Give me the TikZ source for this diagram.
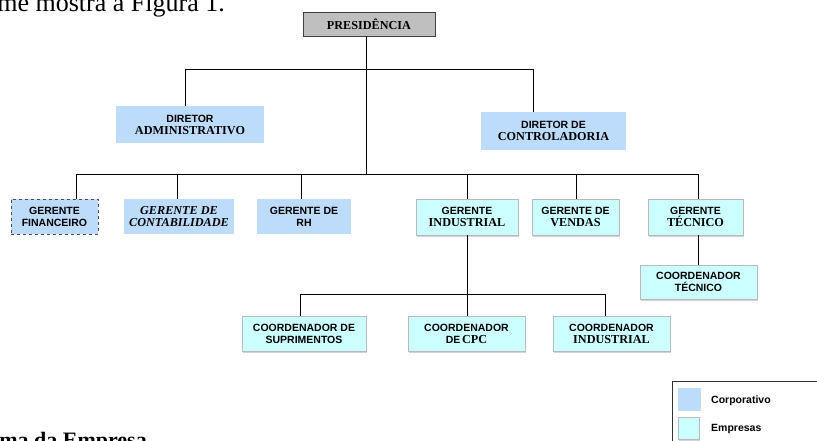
\documentclass[tikz,border=0pt]{standalone}
\usepackage{fontspec}
\setmainfont{Liberation Serif}
\setsansfont{Liberation Sans}
\usetikzlibrary{shadows}

\definecolor{corpblue}{RGB}{189,220,251}
\definecolor{empcyan}{RGB}{204,255,255}
\definecolor{presgray}{RGB}{191,191,191}

\newcommand{\ssf}[1]{{\sffamily\bfseries\fontsize{10.5}{12}\selectfont #1}}
\newcommand{\srm}[1]{{\rmfamily\bfseries\fontsize{12.2}{12}\selectfont #1}}

\tikzset{
  sz/.style 2 args={minimum width=#1pt,minimum height=#2pt},
  corp/.style={fill=corpblue,inner sep=0pt,align=center,
    font=\fontsize{10.5}{12}\selectfont},
  emp/.style={fill=empcyan,draw=gray!55,inner sep=0pt,align=center,
    font=\fontsize{10.5}{12}\selectfont,
    drop shadow={shadow xshift=1.2pt,shadow yshift=-1.5pt,opacity=0.35}},
  wire/.style={line width=0.8pt}
}

\begin{document}
\begin{tikzpicture}[x=1pt,y=-1pt]

	\useasboundingbox (0,0) rectangle (817,441);
	\clip (0,0) rectangle (817,441);

	% text of the page around the figure
	\node[anchor=base east,inner sep=0pt,font=\fontsize{26}{26}\selectfont] (toptxt) at (225,12) {conforme mostra a Figura 1.};
	\node[anchor=base east,inner sep=0pt,font=\bfseries\fontsize{22}{22}\selectfont] (captxt) at (147,447) {Organograma da Empresa};

	% presidencia and diretores
	\node[sz={132}{24},fill=presgray,draw=black!75,line width=0.8pt,inner sep=0pt,
	  drop shadow={shadow xshift=1.2pt,shadow yshift=-1.5pt,opacity=0.35}] (pres) at (369,24) {\srm{PRESIDÊNCIA}};
	\node[corp,sz={148}{37}] (dadm) at (190,124.5) {\ssf{DIRETOR}\\\srm{ADMINISTRATIVO}};
	\node[corp,sz={145}{38}] (dcon) at (553.5,131) {\ssf{DIRETOR DE}\\\srm{CONTROLADORIA}};

	% gerentes
	\node[corp,sz={87}{35},draw=black!70,dashed,line width=0.9pt] (gfin) at (54.5,216.5) {\ssf{GERENTE}\\\ssf{FINANCEIRO}};
	\node[corp,sz={110}{35}] (gcon) at (179,216.5) {\srm{\itshape GERENTE DE}\\\srm{\itshape CONTABILIDADE}};
	\node[corp,sz={94}{35}] (grh) at (304,216.5) {\ssf{GERENTE DE}\\\ssf{RH}};
	\node[emp,sz={102}{36}] (gind) at (467,217) {\ssf{GERENTE}\\\srm{INDUSTRIAL}};
	\node[emp,sz={87}{36}] (gven) at (575.5,217) {\ssf{GERENTE DE}\\\srm{VENDAS}};
	\node[emp,sz={95}{36}] (gtec) at (695.5,217) {\ssf{GERENTE}\\\srm{TÉCNICO}};

	% coordenadores
	\node[emp,sz={117}{34}] (ctec) at (698.5,282) {\ssf{COORDENADOR}\\\ssf{TÉCNICO}};
	\node[emp,sz={124}{35}] (csup) at (304,333.5) {\ssf{COORDENADOR DE}\\\ssf{SUPRIMENTOS}};
	\node[emp,sz={117}{35}] (ccpc) at (466.5,333.5) {\ssf{COORDENADOR}\\\ssf{DE}\,\srm{CPC}};
	\node[emp,sz={117}{35}] (cind) at (611.5,333.5) {\ssf{COORDENADOR}\\\srm{INDUSTRIAL}};

	% linhas
	\coordinate (bdir) at (366,69);
	\coordinate (bdirl) at (185,69);
	\coordinate (bdirr) at (533,69);
	\coordinate (bger) at (366,174);
	\coordinate (bgerl) at (76,174);
	\coordinate (bgerr) at (698,174);
	\coordinate (bcoo) at (467,294);

	\draw[wire] (pres.south -| bdir) -- (bger);
	\draw[wire] (bdirl |- dadm.north) -- (bdirl) -- (bdirr) -- (bdirr |- dcon.north);
	\draw[wire] (bgerl) -- (bgerr);
	\foreach \xx/\nn in {76/gfin,177/gcon,301/grh,467/gind,576/gven,698/gtec}
		\draw[wire] (\xx,174) -- (\xx,0 |- \nn.north);
	\draw[wire] (gtec.south -| bgerr) -- (ctec.north -| bgerr);
	\draw[wire] (gind.south) -- (ccpc.north -| gind.south);
	\draw[wire] (csup.north -| 300,0) -- (300,294) -- (605,294) -- (cind.north -| 605,0);

	% legenda
	\draw[line width=0.8pt,black!80] (672,381) rectangle (840,470);
	\node[corp,sz={23}{23}] (legcorp) at (689.5,399.5) {};
	\node[emp,sz={21}{22}] (legemp) at (688.5,428) {};
	\node[anchor=west,inner sep=0pt,font=\sffamily\bfseries\fontsize{10.5}{12}\selectfont] (txtcorp) at (711,401) {Corporativo};
	\node[anchor=west,inner sep=0pt,font=\sffamily\bfseries\fontsize{10.5}{12}\selectfont] (txtemp) at (711,429) {Empresas};

\end{tikzpicture}
\end{document}
